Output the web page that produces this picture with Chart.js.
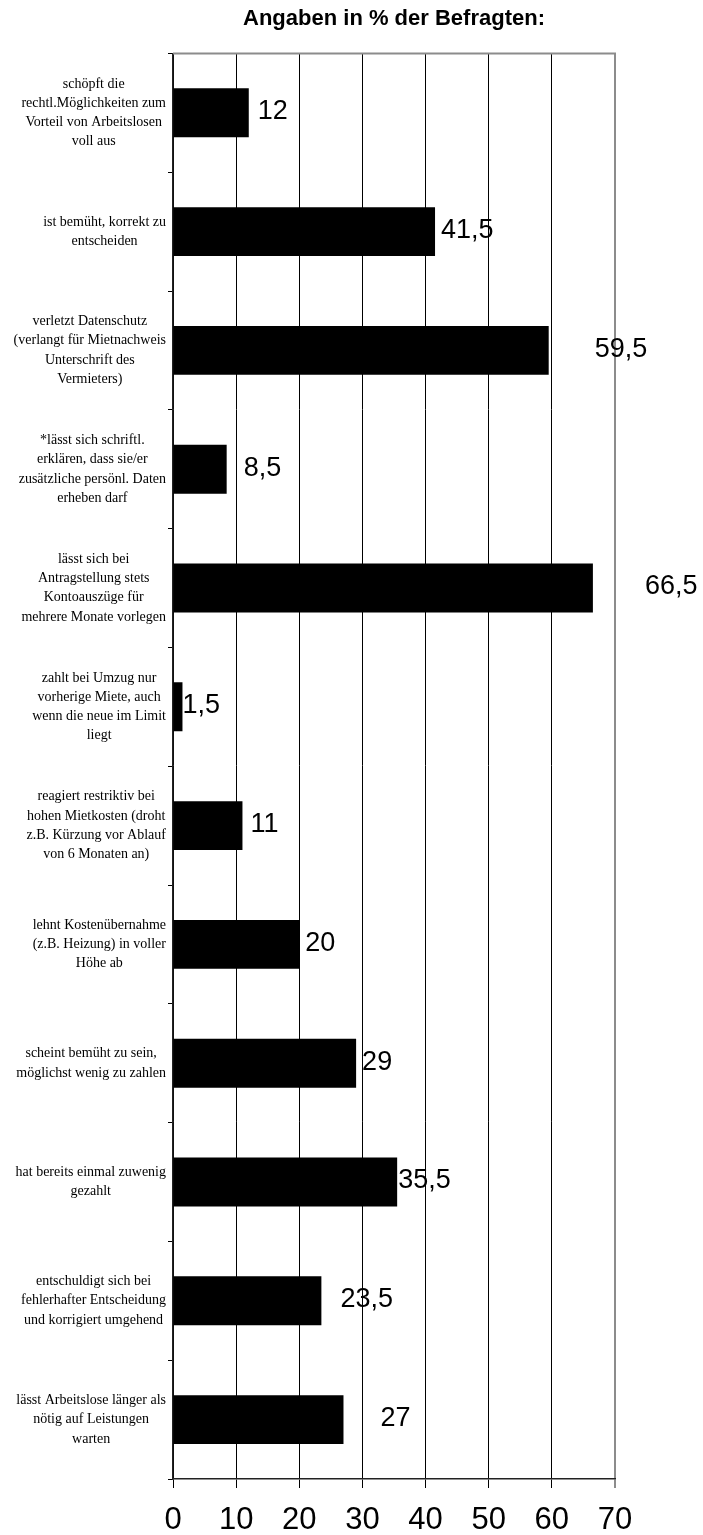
<!DOCTYPE html>
<html lang="de">
<head>
<meta charset="utf-8">
<title>Angaben in % der Befragten</title>
<script src="https://cdn.jsdelivr.net/npm/chart.js@4.4.1/dist/chart.umd.min.js"></script>
<style>
  html, body { margin: 0; padding: 0; background: #fff; }
  #wrap { position: relative; width: 703px; height: 1535px; }
</style>
</head>
<body>
<div id="wrap"><canvas id="chart"></canvas></div>
<script>
// Survey answers, one entry per statement (wrapped as in the printed form)
const categories = [
    ['schöpft die', 'rechtl.Möglichkeiten zum', 'Vorteil von Arbeitslosen', 'voll aus'],
    ['ist bemüht, korrekt zu', 'entscheiden'],
    ['verletzt Datenschutz', '(verlangt für Mietnachweis', 'Unterschrift des', 'Vermieters)'],
    ['*lässt sich schriftl.', 'erklären, dass sie/er', 'zusätzliche persönl. Daten', 'erheben darf'],
    ['lässt sich bei', 'Antragstellung stets', 'Kontoauszüge für', 'mehrere Monate vorlegen'],
    ['zahlt bei Umzug nur', 'vorherige Miete, auch', 'wenn die neue im Limit', 'liegt'],
    ['reagiert restriktiv bei', 'hohen Mietkosten (droht', 'z.B. Kürzung vor Ablauf', 'von 6 Monaten an)'],
    ['lehnt Kostenübernahme', '(z.B. Heizung) in voller', 'Höhe ab'],
    ['scheint bemüht zu sein,', 'möglichst wenig zu zahlen'],
    ['hat bereits einmal zuwenig', 'gezahlt'],
    ['entschuldigt sich bei', 'fehlerhafter Entscheidung', 'und korrigiert umgehend'],
    ['lässt Arbeitslose länger als', 'nötig auf Leistungen', 'warten']
];

// percent of respondents
const values = [12, 41.5, 59.5, 8.5, 66.5, 1.5, 11, 20, 29, 35.5, 23.5, 27];

const xTicks = [0, 10, 20, 30, 40, 50, 60, 70];

// gap between bar end and its value label, px
const labelShift = [9, 6, 46, 17, 52, 0, 8, 6, 6, 1, 19, 37];

const fmt = v => String(v).replace('.', ',');

// category labels: each block sits against the axis, lines centred within it
const categoryLabels = {
    id: 'categoryLabels',
    afterDraw(chart) {
        const ctx = chart.ctx;
        const yScale = chart.scales.y;
        const right = chart.chartArea.left - 7;
        const lh = 19.3;
        ctx.save();
        ctx.font = '14px "Liberation Serif", "Times New Roman", serif';
        ctx.fillStyle = '#000';
        ctx.textAlign = 'center';
        ctx.textBaseline = 'middle';
        categories.forEach((lines, i) => {
            const y = yScale.getPixelForValue(i);
            const w = Math.max(...lines.map(l => ctx.measureText(l).width));
            const cx = right - w / 2;
            const y0 = y - (lines.length - 1) * lh / 2;
            lines.forEach((l, j) => ctx.fillText(l, cx, y0 + j * lh));
        });
        ctx.restore();
    }
};

// value labels next to the bars plus the grey top frame
const valueLabels = {
    id: 'valueLabels',
    afterDatasetsDraw(chart) {
        const ctx = chart.ctx;
        const xScale = chart.scales.x;
        const yScale = chart.scales.y;
        const area = chart.chartArea;
        ctx.save();
        ctx.strokeStyle = '#8c8c8c';
        ctx.lineWidth = 2;
        ctx.beginPath();
        ctx.moveTo(area.left, area.top);
        ctx.lineTo(area.right + 1, area.top);
        ctx.stroke();

        ctx.font = '27px "Liberation Sans", Arial, sans-serif';
        ctx.fillStyle = '#000';
        ctx.textAlign = 'left';
        ctx.textBaseline = 'middle';
        values.forEach((v, i) => {
            const x = xScale.getPixelForValue(v) + labelShift[i];
            const y = yScale.getPixelForValue(i) - 1;
            ctx.fillText(fmt(v), x, y);
        });
        ctx.restore();
    }
};

new Chart(document.getElementById('chart'), {
    type: 'bar',
    data: {
        labels: categories,
        datasets: [{
            data: values,
            backgroundColor: '#000',
            borderWidth: 0,
            barPercentage: 0.412,
            categoryPercentage: 1
        }]
    },
    options: {
        indexAxis: 'y',
        responsive: true,
        maintainAspectRatio: false,
        animation: false,
        layout: { padding: { left: 0, right: 88, top: 0, bottom: 0 } },
        plugins: {
            legend: { display: false },
            tooltip: { enabled: false },
            title: {
                display: true,
                text: 'Angaben in % der Befragten:',
                fullSize: false,
                color: '#000',
                font: { family: '"Liberation Sans", Arial, sans-serif', size: 22, weight: 'bold', lineHeight: 1.2 },
                padding: { top: 6, bottom: 21 }
            }
        },
        scales: {
            x: {
                type: 'linear',
                position: 'bottom',
                min: 0,
                max: 70,
                afterBuildTicks: s => { s.ticks = xTicks.map(v => ({ value: v })); },
                afterFit: s => { s.height = 56; },
                grid: {
                    drawOnChartArea: true,
                    drawTicks: true,
                    tickLength: 9,
                    color: c => c.tick && c.tick.value === 70 ? '#8c8c8c' : '#000',
                    lineWidth: c => c.tick && c.tick.value === 70 ? 2 : 1
                },
                border: { display: true, color: '#222', width: 1.5 },
                ticks: {
                    color: '#000',
                    padding: 17,
                    maxRotation: 0,
                    font: { family: '"Liberation Sans Narrow", "Liberation Sans", Arial, sans-serif', size: 31, lineHeight: 1 }
                }
            },
            y: {
                type: 'category',
                position: 'left',
                afterFit: s => { s.width = 173; },
                grid: {
                    offset: true,
                    drawOnChartArea: false,
                    drawTicks: true,
                    tickLength: 5,
                    color: '#000'
                },
                border: { display: true, color: '#222', width: 1.5 },
                ticks: { display: false }
            }
        }
    },
    plugins: [categoryLabels, valueLabels]
});
</script>
</body>
</html>
